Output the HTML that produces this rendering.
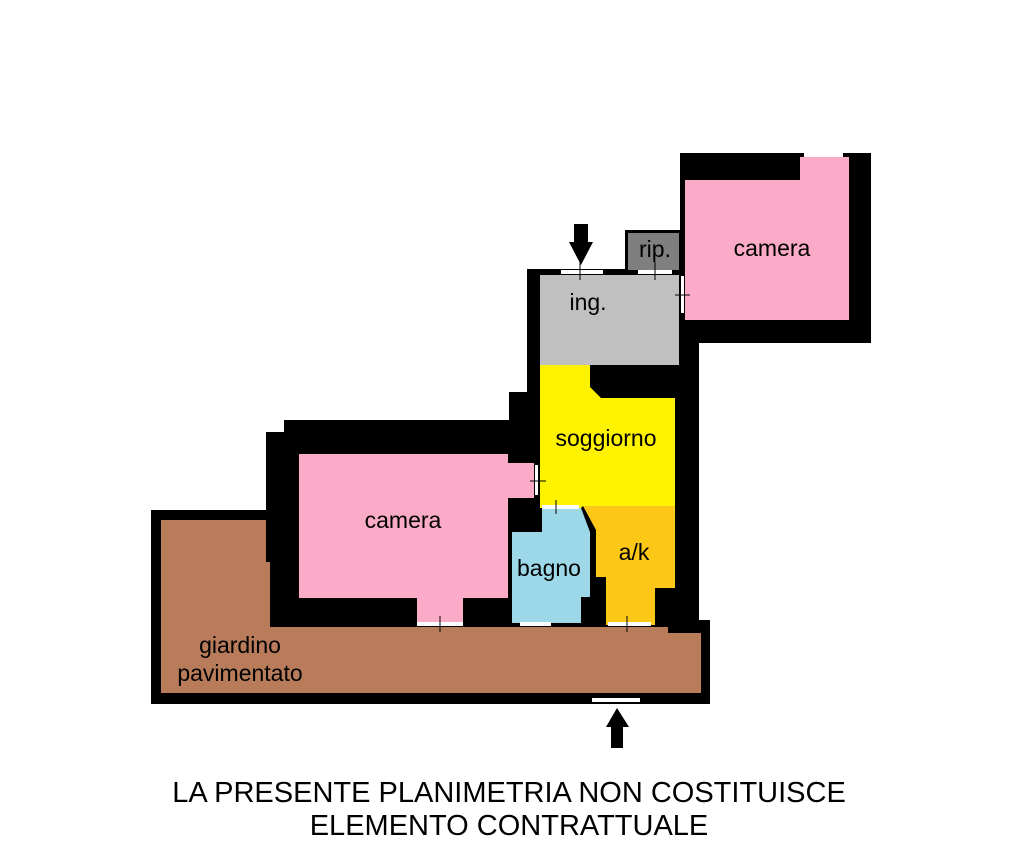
<!DOCTYPE html>
<html><head><meta charset="utf-8"><style>
html,body{margin:0;padding:0;background:#fff;}
svg{display:block;}
text{font-family:"Liberation Sans",sans-serif;fill:#000;}
</style></head><body>
<svg width="1035" height="858" viewBox="0 0 1035 858" xmlns="http://www.w3.org/2000/svg">
<g fill="#000">
<rect x="680" y="153" width="191" height="190"/>
<rect x="625" y="230" width="55" height="45"/>
<rect x="527" y="269" width="172" height="362"/>
<rect x="509" y="392" width="20" height="40"/>
<rect x="266" y="432" width="275" height="196"/>
<rect x="284" y="420" width="250" height="20"/>
<rect x="151" y="510" width="120" height="194"/>
<rect x="151" y="620" width="559" height="84"/>
</g>
<polygon fill="#fbabc8" points="685,180 800,180 800,157 849,157 849,320 685,320"/>
<rect x="804" y="153" width="39" height="4" fill="#fff"/>
<rect x="628" y="233" width="51" height="37" fill="#7f7f7f"/>
<rect x="540" y="275" width="139" height="90" fill="#c0c0c0"/>
<rect x="561" y="270" width="42" height="4" fill="#fff"/>
<rect x="638" y="270" width="34" height="4" fill="#fff"/>
<rect x="681" y="276" width="3" height="37" fill="#fff"/>
<polygon fill="#fff200" points="540,365 590,365 590,387 601,398 675,398 675,506 583,506 581,508 540,508"/>
<polygon fill="#fbabc8" points="299,454 508,454 508,463 534,463 534,498 508,498 508,598 463,598 463,625 417,625 417,598 299,598"/>
<rect x="535" y="465" width="3" height="30" fill="#fff"/>
<rect x="417" y="622" width="46" height="4" fill="#fff"/>
<polygon fill="#9cd8e8" points="542,508 581,508 590,532 590,597 581,597 581,623 512,623 512,532 542,532"/>
<rect x="542" y="505" width="37" height="4" fill="#fff"/>
<rect x="520" y="622" width="31" height="4" fill="#fff"/>
<polygon fill="#fdc718" points="583,506 675,506 675,588 655,588 655,625 606,625 606,577 596,577 596,530"/>
<rect x="608" y="622" width="43" height="4" fill="#fff"/>
<polygon fill="#b87c5a" points="161,520 266,520 266,562 270,562 270,627 668,627 668,633 701,633 701,693 161,693"/>
<rect x="592" y="698" width="48" height="4" fill="#fff"/>
<g stroke="#000" stroke-width="1">
<line x1="580" y1="262" x2="580" y2="280"/>
<line x1="655" y1="262" x2="655" y2="280"/>
<line x1="675" y1="295" x2="690" y2="295"/>
<line x1="530" y1="481" x2="546" y2="481"/>
<line x1="556" y1="500" x2="556" y2="514"/>
<line x1="440" y1="616" x2="440" y2="632"/>
<line x1="627" y1="616" x2="627" y2="632"/>
</g>
<polygon fill="#000" points="574,224 588,224 588,242 593,242 581,265 569,242 574,242"/>
<polygon fill="#000" points="617,708 629,727 623,727 623,748 611,748 611,727 606,727"/>
<g font-size="23">
<text x="772" y="256" text-anchor="middle">camera</text>
<text x="655" y="257" text-anchor="middle">rip.</text>
<text x="588" y="310" text-anchor="middle">ing.</text>
<text x="606" y="446" text-anchor="middle">soggiorno</text>
<text x="403" y="528" text-anchor="middle">camera</text>
<text x="549" y="576" text-anchor="middle">bagno</text>
<text x="634" y="560" text-anchor="middle">a/k</text>
<text x="240" y="653" text-anchor="middle">giardino</text>
<text x="240" y="681" text-anchor="middle">pavimentato</text>
</g>
<g font-size="29">
<text x="509" y="802" text-anchor="middle">LA PRESENTE PLANIMETRIA NON COSTITUISCE</text>
<text x="509" y="835" text-anchor="middle">ELEMENTO CONTRATTUALE</text>
</g>
</svg>
</body></html>
